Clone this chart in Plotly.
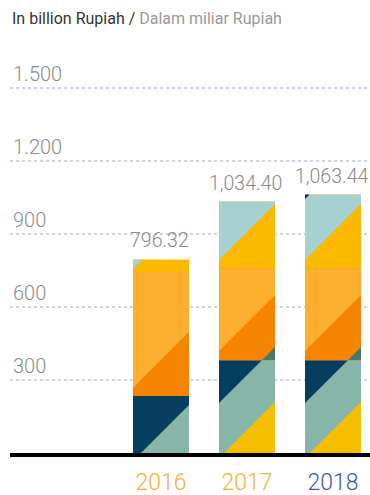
import plotly.graph_objects as go

# ---- data -------------------------------------------------------------
years = ["2016", "2017", "2018"]
totals = [796.32, 1034.40, 1063.44]
# stacked pieces of each bar, bottom to top (last piece closes to the total)
seg_bottom = [235, 382, 382]
seg_middle = [510, 378, 378]
seg_top = [t - a - b for t, a, b in zip(totals, seg_bottom, seg_middle)]
y_ticks = [300, 600, 900, 1200, 1500]
y_tick_text = ["300", "600", "900", "1.200", "1.500"]
total_text = ["796.32", "1,034.40", "1,063.44"]

# ---- styling ----------------------------------------------------------
NAVY = "#073E5F"
TEAL = "#87B5A7"
YEL_LOW = "#F5BE00"
DK_TEAL = "#4B786C"
DK_ORANGE = "#F58400"
LT_ORANGE = "#FDB030"
YEL_TOP = "#FBB900"
LT_TEAL = "#A6D1D0"
DK_NAVY = "#132A4C"

# diagonal stripe lines (height in px above the baseline at the bar's left edge)
stripe_px = [[-8, 65, 184], [-5, 50, 102, 193], [-5, 50, 102, 193, 254]]
# colour of each diagonal band, per stacked piece
band_colors = [
    [[TEAL, NAVY, NAVY, NAVY],
     [DK_ORANGE, DK_ORANGE, LT_ORANGE, LT_ORANGE],
     [YEL_TOP, YEL_TOP, YEL_TOP, LT_TEAL]],
    [[YEL_LOW, TEAL, NAVY, NAVY, NAVY],
     [DK_TEAL, DK_TEAL, DK_ORANGE, LT_ORANGE, LT_ORANGE],
     [YEL_TOP, YEL_TOP, YEL_TOP, YEL_TOP, LT_TEAL]],
    [[YEL_LOW, TEAL, NAVY, NAVY, NAVY, NAVY],
     [DK_TEAL, DK_TEAL, DK_ORANGE, LT_ORANGE, LT_ORANGE, LT_ORANGE],
     [YEL_TOP, YEL_TOP, YEL_TOP, YEL_TOP, LT_TEAL, DK_NAVY]],
]
year_colors = ["#FBB034", "#FBB034", "#3D5AA8"]

FIG_W, FIG_H = 370, 495
M_L, M_R, M_T, M_B = 10, 0, 50, 42
Y_MAX = 1658
X_RANGE = [-1.756, 2.430]
BAR_HALF = 0.3256

plot_w = FIG_W - M_L - M_R
plot_h = FIG_H - M_T - M_B
px_per_x = plot_w / (X_RANGE[1] - X_RANGE[0])
px_per_y = plot_h / Y_MAX
slope = px_per_x / px_per_y  # 45 degree diagonal in data units


def clip_above(poly, x0, b):
    """Keep the part of poly on/above the line y = b + slope*(x - x0)."""
    def f(p):
        return p[1] - (b + slope * (p[0] - x0))
    out = []
    n = len(poly)
    for i in range(n):
        cur, nxt = poly[i], poly[(i + 1) % n]
        fc, fn = f(cur), f(nxt)
        if fc >= 0:
            out.append(cur)
        if (fc >= 0) != (fn >= 0):
            t = fc / (fc - fn)
            out.append((cur[0] + t * (nxt[0] - cur[0]), cur[1] + t * (nxt[1] - cur[1])))
    return out


fig = go.Figure()


def add_poly(pts, color):
    if len(pts) < 3:
        return
    xs = [p[0] for p in pts] + [pts[0][0]]
    ys = [p[1] for p in pts] + [pts[0][1]]
    fig.add_trace(go.Scatter(x=xs, y=ys, mode="lines", fill="toself",
                             fillcolor=color, line=dict(width=0, color=color),
                             hoverinfo="skip", showlegend=False))


for i in range(len(years)):
    xl, xr = i - BAR_HALF, i + BAR_HALF
    pieces = [seg_bottom[i], seg_middle[i], seg_top[i]]
    base = 0.0
    lines = [p / px_per_y for p in stripe_px[i]]
    for k, h in enumerate(pieces):
        top = base + h
        rect = [(xl, base), (xr, base), (xr, top), (xl, top)]
        cols = band_colors[i][k]
        add_poly(rect, cols[0])
        for j, b in enumerate(lines):
            if cols[j + 1] != cols[j]:
                add_poly(clip_above(rect, xl, b), cols[j + 1])
        base = top

for i, t in enumerate(totals):
    fig.add_annotation(x=i, y=t, text=total_text[i],
                       showarrow=False, yanchor="bottom", yshift=5,
                       xshift=-2,
                       font=dict(family="Roboto", size=19.5, color="#8A8A8A",
                                 weight=300))

fig.update_layout(
    width=FIG_W, height=FIG_H,
    margin=dict(l=M_L, r=M_R, t=M_T, b=M_B),
    paper_bgcolor="white", plot_bgcolor="white",
    title=dict(
        text="<span style='color:#333333'>In billion Rupiah / </span>"
             "<span style='color:#9A9A9A'>Dalam miliar Rupiah</span>",
        x=12 / FIG_W, xanchor="left", xref="container",
        y=1 - 18 / FIG_H, yanchor="middle", yref="container",
        font=dict(family="Roboto", size=16)),
    xaxis=dict(range=X_RANGE, tickvals=[0, 1, 2],
               ticktext=[f"<span style='color:{c}'>{y}</span>"
                         for y, c in zip(years, year_colors)],
               tickfont=dict(family="Roboto", size=23, weight=300),
               showgrid=False, zeroline=False, showline=True,
               linecolor="black", linewidth=4, ticks="", ticklabelstandoff=5,
               automargin=False),
    yaxis=dict(range=[0, Y_MAX], tickvals=y_ticks, ticktext=y_tick_text,
               ticklabelposition="inside top",
               tickfont=dict(family="Roboto", size=20, color="#8C8C8C",
                             weight=300),
               showgrid=True, gridcolor="#CDD1EA", griddash="dot", gridwidth=2,
               zeroline=False, showline=False, ticks="", automargin=False),
)

fig.write_html("out.html")
